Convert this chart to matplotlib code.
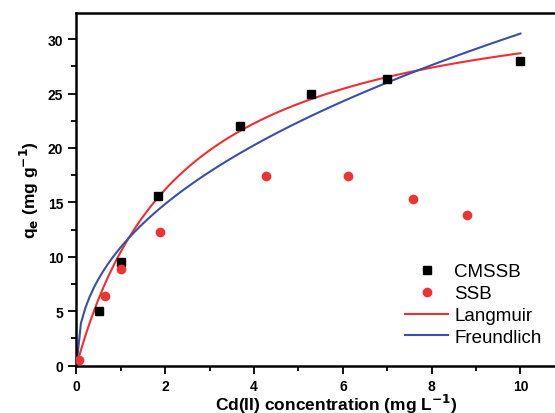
import numpy as np
import matplotlib.pyplot as plt
from matplotlib.ticker import MultipleLocator

plt.rcParams['font.family'] = ['Liberation Sans', 'DejaVu Sans']

# CMSSB data
c_cmssb = [0.5, 1.0, 1.84, 3.68, 5.29, 6.99, 9.98]
q_cmssb = [5.0, 9.56, 15.57, 22.0, 24.94, 26.35, 27.98]

# SSB data
c_ssb = [0.06, 0.64, 1.0, 1.88, 4.26, 6.12, 7.58, 8.79]
q_ssb = [0.55, 6.38, 8.86, 12.3, 17.43, 17.43, 15.35, 13.85]

# isotherm fit parameters
qm, kl = 35.57, 0.418
kf, n_inv = 10.9, 0.447

c_fit = np.arange(0, 10.01, 0.1)
q_lang = qm * kl * c_fit / (1 + kl * c_fit)
q_freu = kf * c_fit ** n_inv

fig = plt.figure(figsize=(5.55, 4.14), dpi=100)
ax = fig.add_axes([0.1378, 0.1143, 0.936, 0.8519])

ax.plot(c_cmssb, q_cmssb, 's', color='black', markersize=6, label='CMSSB', zorder=3)
ax.plot(c_ssb, q_ssb, 'o', color='#ee3333', markersize=7, markeredgewidth=0, label='SSB', zorder=3)
ax.plot(c_fit, q_lang, color='#f03030', lw=1.5, label='Langmuir')
ax.plot(c_fit, q_freu, color='#3a4fa8', lw=1.5, label='Freundlich')

ax.set_xlim(0, 11.7)
ax.set_ylim(0, 32.4)
ax.xaxis.set_major_locator(MultipleLocator(2))
ax.xaxis.set_minor_locator(MultipleLocator(1))
ax.yaxis.set_major_locator(MultipleLocator(5))
ax.yaxis.set_minor_locator(MultipleLocator(2.5))
ax.tick_params(which='major', direction='out', length=6, width=1.3, labelsize=10)
ax.tick_params(which='minor', direction='out', length=3.5, width=1.3)
ax.tick_params(top=False, right=False)
for lab in ax.get_xticklabels() + ax.get_yticklabels():
    lab.set_fontweight('bold')
for s in ax.spines.values():
    s.set_linewidth(1.8)

ax.set_xlabel('Cd(II) concentration (mg L$^{\\mathbf{-1}}$)', fontsize=12.5, fontweight='bold', labelpad=-1)
ax.set_ylabel('q$_{\\mathbf{e}}$ (mg g$^{\\mathbf{-1}}$)', fontsize=12.5, fontweight='bold', labelpad=5)

ax.legend(loc='upper left', bbox_to_anchor=(0.60, 0.338), frameon=False, fontsize=13.5,
          handlelength=2.3, handletextpad=0.32, labelspacing=0.25, numpoints=1)

fig.savefig('out.png', dpi=100)
